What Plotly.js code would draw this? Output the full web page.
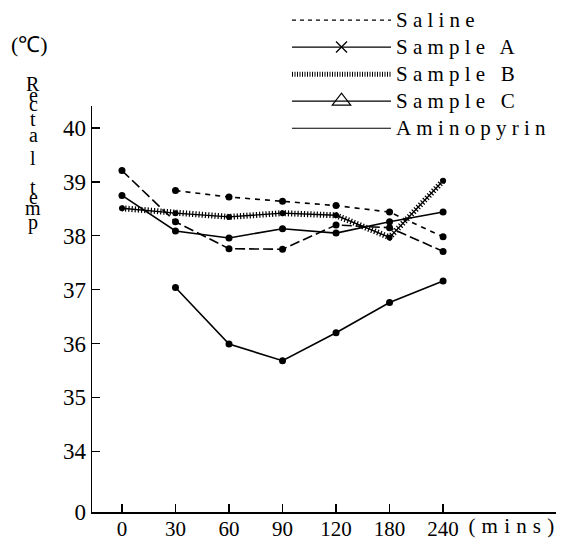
<!DOCTYPE html>
<html><head><meta charset="utf-8">
<script src="https://cdn.plot.ly/plotly-3.0.1.min.js"></script>
<style>
html,body{margin:0;padding:0;background:#fff;}
#chart{width:569px;height:546px;}
.legendtext{font-size:21px !important;letter-spacing:5.2px;}
.annotation-text.spaced{letter-spacing:6.2px;}
</style></head><body><div id="chart"></div>
<script>
// ---- data ----
const timeLabels = ["0", "30", "60", "90", "120", "180", "240"];
const timeIndex = [0, 1, 2, 3, 4, 5, 6];
const saline     = [null, 38.84, 38.72, 38.64, 38.56, 38.44, 37.98];
const sampleA    = [38.75, 38.09, 37.96, 38.13, 38.05, 38.26, 38.44];
const sampleB    = [38.51, 38.42, 38.35, 38.42, 38.38, 37.97, 39.02];
const sampleC    = [39.21, 38.26, 37.76, 37.75, 38.20, 38.15, 37.71];
const aminopyrin = [null, 37.04, 35.99, 35.68, 36.20, 36.76, 37.16];
const seriesNames = ["Saline", "Sample A", "Sample B", "Sample C", "Aminopyrin"];
const yTickVals = [32.87, 34, 35, 36, 37, 38, 39, 40];   // 32.87 = bottom of broken axis, labelled 0
const yTickText = ["0", "34", "35", "36", "37", "38", "39", "40"];
const yTitleUnit = "(℃)";
const yTitleWord = "Rectal temp";
const xUnit = "(mins)";

const FONT = "Liberation Serif";
const K = "#000";
const dot = {symbol: "circle", size: 7, color: K};

const traces = [
  {x: timeIndex, y: saline, mode: "lines+markers", showlegend: false,
   line: {color: K, width: 1.6, dash: "5px,5px"}, marker: dot},
  {x: timeIndex, y: sampleA, mode: "lines+markers", showlegend: false,
   line: {color: K, width: 1.6}, marker: dot},
  {x: timeIndex, y: sampleB, mode: "lines+markers", showlegend: false,
   line: {color: K, width: 1.4}, marker: {symbol: "circle", size: 6, color: K}},
  {x: timeIndex, y: sampleB, mode: "lines", showlegend: false,
   line: {color: K, width: 6, dash: "1.2px,2px"}},
  {x: timeIndex, y: sampleC, mode: "lines+markers", showlegend: false,
   line: {color: K, width: 1.6, dash: "10px,4px"}, marker: dot},
  {x: timeIndex, y: aminopyrin, mode: "lines+markers", showlegend: false,
   line: {color: K, width: 1.6}, marker: dot},
  // legend keys
  {x: [null], y: [null], name: seriesNames[0], mode: "lines",
   line: {color: K, width: 1.2, dash: "4px,4px"}},
  {x: [null], y: [null], name: seriesNames[1], mode: "lines+markers",
   line: {color: K, width: 1.2}, marker: {symbol: "x-thin-open", size: 11, color: K, line: {width: 1.3, color: K}}},
  {x: [null], y: [null], name: seriesNames[2], mode: "lines",
   line: {color: K, width: 5, dash: "1px,1.5px"}},
  {x: [null], y: [null], name: seriesNames[3], mode: "lines+markers",
   line: {color: K, width: 1.2}, marker: {symbol: "triangle-up-open", size: 17, color: K, line: {width: 1.2, color: K}}},
  {x: [null], y: [null], name: seriesNames[4], mode: "lines",
   line: {color: K, width: 1.2}}
];

const annotations = [
  {text: yTitleUnit, xref: "paper", yref: "paper", x: (29 - 92) / 464, y: (512 - 45) / 406,
   xanchor: "center", yanchor: "middle", showarrow: false, font: {family: FONT, size: 22, color: K}},
  {text: xUnit, xref: "paper", yref: "paper", x: (514 - 92) / 464, y: 0, yshift: 0,
   xanchor: "center", yanchor: "top", showarrow: false, font: {family: FONT, size: 21, color: K}}
];
const letterCenters = [84, 95, 104, 119, 135, 158, null, 187, 197, 208, 222];
yTitleWord.split("").forEach((ch, i) => {
  if (ch === " ") return;
  annotations.push({text: ch, xref: "paper", yref: "paper", x: (33 - 92) / 464, y: (512 - letterCenters[i]) / 406,
    xanchor: "center", yanchor: "middle", showarrow: false, font: {family: FONT, size: 20, color: K}});
});

const layout = {
  width: 569, height: 546,
  margin: {l: 92, r: 13, t: 106, b: 34, autoexpand: false},
  paper_bgcolor: "#fff", plot_bgcolor: "#fff",
  font: {family: FONT, color: K},
  showlegend: true,
  legend: {x: (287 - 92) / 464, y: (512 - 1.5) / 406, xanchor: "left", yanchor: "top",
    bgcolor: "rgba(0,0,0,0)", itemwidth: 99, font: {family: FONT, size: 18.5, color: K},
    itemclick: false},
  xaxis: {range: [-0.56, 8.11], tickvals: timeIndex, ticktext: timeLabels,
    showline: true, linecolor: K, linewidth: 1.5, ticks: "inside", ticklen: 8, tickwidth: 1.3, tickcolor: K,
    ticklabelstandoff: -3,
    showgrid: false, zeroline: false, tickfont: {family: FONT, size: 21, color: K}},
  yaxis: {range: [32.87, 40.41], tickvals: yTickVals, ticktext: yTickText,
    showline: true, linecolor: K, linewidth: 1.5, ticks: "inside", ticklen: 8, tickwidth: 1.3, tickcolor: K,
    showgrid: false, zeroline: false, tickfont: {family: FONT, size: 23, color: K}},
  annotations: annotations
};

Plotly.newPlot("chart", traces, layout, {staticPlot: true}).then(() => {
  document.querySelectorAll(".annotation-text").forEach(el => {
    if (el.textContent === xUnit) el.classList.add("spaced");
  });
});
</script></body></html>
